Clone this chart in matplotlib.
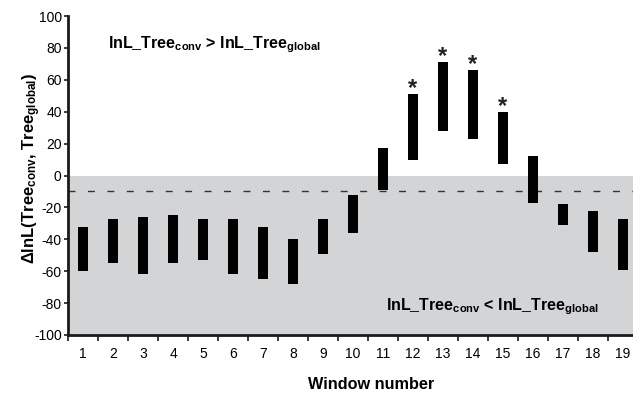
import matplotlib
matplotlib.use("Agg")
import matplotlib.pyplot as plt
import numpy as np

windows = list(range(1, 20))
upper = [-32, -27, -26, -25, -27, -27, -32, -40, -27, -12, 17, 51, 71, 66, 40, 12, -18, -22, -27]
lower = [-60, -55, -62, -55, -53, -62, -65, -68, -49, -36, -9, 10, 28, 23, 7, -17, -31, -48, -59]
significant = [12, 13, 14, 15]
threshold = -10
yticks = list(range(-100, 101, 20))

plt.rcParams['font.family'] = ['Liberation Sans', 'DejaVu Sans']
plt.rcParams['mathtext.fontset'] = 'custom'
plt.rcParams['mathtext.rm'] = 'Liberation Sans:bold'
plt.rcParams['mathtext.it'] = 'Liberation Sans:bold'
plt.rcParams['mathtext.bf'] = 'Liberation Sans:bold'
plt.rcParams['mathtext.default'] = 'rm'
plt.rcParams['axes.unicode_minus'] = False

fig = plt.figure(figsize=(6.33, 3.94), dpi=100)
ax = fig.add_axes([68/633, 1 - 335/394, 570/633, 319/394])

ax.set_xlim(0.5, 19.5)
ax.set_ylim(-100, 100)
ax.axhspan(-100, 0, color='#d3d4d6', zorder=0, lw=0)
ax.axhline(threshold, color='#333333', lw=1.0, dashes=(5, 9), zorder=1)

heights = [u - l for u, l in zip(upper, lower)]
ax.bar(windows, heights, bottom=lower, width=0.33, color='black', zorder=2)

for w in significant:
    i = windows.index(w)
    ax.text(w, upper[i] + 3.5, '*', ha='center', va='center', fontsize=17,
            fontweight='bold', color='#222222', zorder=3)

for s in ['top', 'right']:
    ax.spines[s].set_visible(False)
for s in ['left', 'bottom']:
    ax.spines[s].set_linewidth(2)
    ax.spines[s].set_color('#1a1a1a')

ax.set_yticks(yticks)
ax.set_yticklabels([str(v) for v in yticks])
ax.tick_params(axis='y', length=3, width=1.2, pad=1.5, labelsize=10, color='#1a1a1a')
ax.set_xticks(windows)
ax.set_xticklabels([str(w) for w in windows])
ax.set_xticks(np.arange(0.5, 19.6, 1), minor=True)
ax.tick_params(axis='x', which='major', length=0, pad=9, labelsize=10)
ax.tick_params(axis='x', which='minor', length=4, width=1.2, color='#1a1a1a')

ax.set_xlabel('Window number', fontsize=11.7, fontweight='bold')
ax.xaxis.set_label_coords(0.532, -0.132)
ax.set_ylabel(r'ΔlnL(Tree$_{conv}$, Tree$_{global}$)', fontsize=12, fontweight='bold')
ax.yaxis.set_label_coords(-0.044, 0.523)

ax.text(1.83, 81.8, r'lnL_Tree$_{conv}$ > lnL_Tree$_{global}$', fontsize=11.5,
        fontweight='bold', va='center', ha='left')
ax.text(11.1, -82.3, r'lnL_Tree$_{conv}$ < lnL_Tree$_{global}$', fontsize=11.5,
        fontweight='bold', va='center', ha='left')

fig.savefig('out.png', dpi=100)
